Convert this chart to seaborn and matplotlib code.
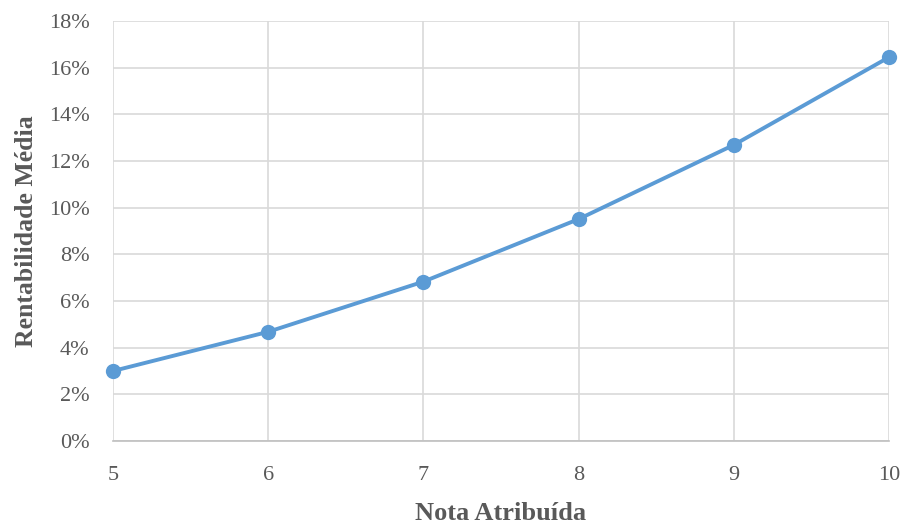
import seaborn as sns
import pandas as pd
import matplotlib.pyplot as plt
from matplotlib.ticker import PercentFormatter, MultipleLocator

notas = [5, 6, 7, 8, 9, 10]
rentabilidade = [3.0, 4.68, 6.83, 9.51, 12.69, 16.45]

df = pd.DataFrame({"Nota": notas, "Rentabilidade": rentabilidade})

sns.set_style("white")
plt.rcParams['font.family'] = ['Liberation Serif', 'DejaVu Serif']

fig, ax = plt.subplots(figsize=(9.01, 5.26), dpi=100)
fig.subplots_adjust(left=0.1254, right=0.9867, top=0.96, bottom=0.1616)

sns.lineplot(data=df, x="Nota", y="Rentabilidade", color="#5b9bd5", linewidth=2.8,
             marker="o", markersize=11, markeredgewidth=0, ax=ax, zorder=3)
for ln in ax.lines:
    ln.set_clip_on(False)

ax.set_xlim(5, 10)
ax.set_ylim(0, 18)
ax.yaxis.set_major_locator(MultipleLocator(2))
ax.xaxis.set_major_locator(MultipleLocator(1))
ax.yaxis.set_major_formatter(PercentFormatter(decimals=0))
ax.grid(True, color="#d9d9d9", linewidth=1.2)
ax.set_axisbelow(True)

for s in ["top", "right", "left"]:
    ax.spines[s].set_visible(False)
ax.spines["bottom"].set_color("#bfbfbf")
ax.spines["bottom"].set_linewidth(1.2)

ax.tick_params(axis="both", length=0, labelsize=16, labelcolor="#595959")
ax.tick_params(axis="x", pad=18)
ax.tick_params(axis="y", pad=17)

ax.set_xlabel("Nota Atribuída", fontsize=19, fontweight="bold", color="#595959", labelpad=12)
ax.set_ylabel("Rentabilidade Média", fontsize=18.5, fontweight="bold", color="#595959", labelpad=8)

plt.savefig("out.png", dpi=100)
